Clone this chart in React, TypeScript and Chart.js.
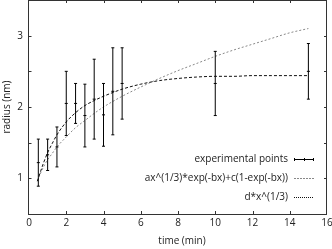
import React, { useEffect, useRef } from 'react';
import { Chart, registerables } from 'chart.js';

Chart.register(...registerables);

// experimental data
const times = [0.5, 1, 1.5, 2, 2.5, 3, 3.5, 4, 4.5, 5, 10, 15];
const radius = [1.22, 1.33, 1.44, 2.05, 2.05, 1.88, 2.11, 1.89, 2.22, 2.33, 2.33, 2.5];
const radiusErr = [0.33, 0.22, 0.28, 0.45, 0.28, 0.44, 0.56, 0.44, 0.61, 0.5, 0.45, 0.39];

// fitted curves
const fitX = [0.45, 0.6, 0.8, 1, 1.25, 1.5, 2, 2.5, 3, 3.5, 4, 5, 6, 7, 8, 9, 10, 11, 12, 13, 14, 15];
const expFit = [0.96, 1.08, 1.23, 1.36, 1.49, 1.61, 1.79, 1.92, 2.02, 2.09, 2.15, 2.25, 2.32, 2.37, 2.4, 2.42, 2.43, 2.43, 2.44, 2.44, 2.44, 2.44];
const powFit = [0.96, 1.06, 1.17, 1.26, 1.35, 1.44, 1.58, 1.71, 1.81, 1.91, 2.0, 2.15, 2.28, 2.4, 2.51, 2.61, 2.71, 2.8, 2.88, 2.96, 3.04, 3.1];

const seriesLabels = ['experimental points', 'ax^(1/3)*exp(-bx)+c(1-exp(-bx))', 'd*x^(1/3)'];
const xTitle = 'time (min)';
const yTitle = 'radius (nm)';

const FONT = '"Open Sans", "DejaVu Sans", sans-serif';

const framePlugin = {
  id: 'gnuFrame',
  afterDatasetsDraw(chart: any) {
    const { ctx, chartArea: a, scales } = chart;
    const x = scales.x;
    const y = scales.y;
    ctx.save();
    // error bars
    ctx.strokeStyle = '#000';
    ctx.lineWidth = 1;
    times.forEach((t, i) => {
      const px = x.getPixelForValue(t);
      const y1 = y.getPixelForValue(radius[i] - radiusErr[i]);
      const y2 = y.getPixelForValue(radius[i] + radiusErr[i]);
      ctx.beginPath();
      ctx.moveTo(px, y1);
      ctx.lineTo(px, y2);
      ctx.moveTo(px - 1.5, y1);
      ctx.lineTo(px + 1.5, y1);
      ctx.moveTo(px - 1.5, y2);
      ctx.lineTo(px + 1.5, y2);
      ctx.stroke();
    });

    // frame
    ctx.strokeStyle = '#333';
    ctx.setLineDash([]);
    const L = Math.floor(a.left) - 0.5;
    ctx.strokeRect(L, a.top + 0.5, Math.round(a.right) - 0.5 - L, a.bottom - a.top);

    // inward ticks (mirrored on all four sides)
    ctx.beginPath();
    x.ticks.forEach((tk: any) => {
      const px = Math.round(x.getPixelForValue(tk.value)) + 0.5;
      if (px <= a.left + 1 || px >= a.right - 1) return;
      ctx.moveTo(px, a.bottom);
      ctx.lineTo(px, a.bottom - 3);
      ctx.moveTo(px, a.top);
      ctx.lineTo(px, a.top + 3);
    });
    y.ticks.forEach((tk: any) => {
      const py = Math.round(y.getPixelForValue(tk.value)) + 0.5;
      if (py <= a.top + 1 || py >= a.bottom - 1) return;
      ctx.moveTo(L, py);
      ctx.lineTo(L + 3, py);
      ctx.moveTo(a.right, py);
      ctx.lineTo(a.right - 3, py);
    });
    ctx.stroke();

    // axis titles
    ctx.font = '10px ' + FONT;
    ctx.fillStyle = '#222';
    ctx.textAlign = 'center';
    ctx.textBaseline = 'middle';
    ctx.fillText(xTitle, 182, a.bottom + 27);
    ctx.save();
    ctx.translate(7.5, (a.top + a.bottom) / 2);
    ctx.rotate(-Math.PI / 2);
    ctx.fillText(yTitle, 0, 0);
    ctx.restore();

    // key
    const rowsY = [159, 178, 197].map((v) => a.top + v);
    const textRight = 288;
    const s0 = 294;
    const s1 = 314;
    ctx.textAlign = 'right';
    seriesLabels.forEach((lab, i) => ctx.fillText(lab, textRight, rowsY[i]));

    const r0 = rowsY[0] + 0.5;
    ctx.strokeStyle = '#000';
    ctx.beginPath();
    ctx.moveTo(s0, r0);
    ctx.lineTo(s1, r0);
    ctx.moveTo(s0 + 0.5, r0 - 1.5);
    ctx.lineTo(s0 + 0.5, r0 + 1.5);
    ctx.moveTo(s1 - 0.5, r0 - 1.5);
    ctx.lineTo(s1 - 0.5, r0 + 1.5);
    ctx.moveTo((s0 + s1) / 2 + 0.5, r0 - 1.5);
    ctx.lineTo((s0 + s1) / 2 + 0.5, r0 + 1.5);
    ctx.stroke();
    ctx.strokeStyle = '#888';
    ctx.setLineDash([2, 1]);
    ctx.beginPath();
    ctx.moveTo(s0, rowsY[1] + 0.5);
    ctx.lineTo(s1, rowsY[1] + 0.5);
    ctx.stroke();
    ctx.strokeStyle = '#111';
    ctx.setLineDash([1, 1]);
    ctx.beginPath();
    ctx.moveTo(s0, rowsY[2] + 0.5);
    ctx.lineTo(s1, rowsY[2] + 0.5);
    ctx.stroke();
    ctx.restore();
  },
};

export default function App() {
  const ref = useRef<HTMLCanvasElement>(null);
  useEffect(() => {
    const canvas = ref.current;
    if (!canvas) return;
    const chart = new Chart(canvas, {
      type: 'scatter',
      data: {
        datasets: [
          {
            label: seriesLabels[0],
            data: times.map((t, i) => ({ x: t, y: radius[i] })),
            pointStyle: 'line',
            pointRadius: 1.5,
            borderColor: '#000',
            borderWidth: 1,
            showLine: false,
          },
          {
            label: seriesLabels[1],
            data: fitX.map((t, i) => ({ x: t, y: expFit[i] })),
            showLine: true,
            borderColor: '#111',
            borderWidth: 1,
            borderDash: [3, 2],
            pointRadius: 0,
            cubicInterpolationMode: 'monotone',
          },
          {
            label: seriesLabels[2],
            data: fitX.map((t, i) => ({ x: t, y: powFit[i] })),
            showLine: true,
            borderColor: '#888',
            borderWidth: 1,
            borderDash: [2, 2],
            pointRadius: 0,
            cubicInterpolationMode: 'monotone',
          },
        ],
      },
      options: {
        animation: false,
        responsive: false,
        devicePixelRatio: 1,
        layout: { padding: { left: 0, right: 5, top: 0, bottom: 0 } },
        plugins: { legend: { display: false }, tooltip: { enabled: false } },
        scales: {
          x: {
            type: 'linear',
            min: 0,
            max: 16,
            grid: { display: false, drawTicks: false },
            border: { display: false },
            ticks: { stepSize: 2, padding: 3, color: '#222', font: { family: FONT, size: 10 } },
            title: { display: false },
            afterFit: (s: any) => {
              s.height = 35;
              s.paddingLeft = 0;
              s.paddingRight = 0;
            },
          },
          y: {
            type: 'linear',
            min: 0.5,
            max: 3.5,
            grid: { display: false, drawTicks: false },
            border: { display: false },
            ticks: {
              stepSize: 0.5,
              padding: 6,
              color: '#222',
              font: { family: FONT, size: 10 },
              callback: (v: any) => (Math.abs(v - Math.round(v)) < 1e-6 ? String(Math.round(v)) : ''),
            },
            title: { display: false },
            afterFit: (s: any) => {
              s.width = 29;
              s.paddingTop = 0;
              s.paddingBottom = 0;
            },
          },
        },
      },
      plugins: [framePlugin],
    });
    // place the plot frame's top edge at the top of the page
    const top = Math.round(chart.chartArea.top);
    if (top !== 5) chart.resize(332, 249 + top);
    canvas.style.top = -top + 'px';
    return () => chart.destroy();
  }, []);
  return (
    <div style={{ position: 'fixed', left: 0, top: 0, width: 332, height: 249, overflow: 'hidden', background: '#fff' }}>
      <canvas ref={ref} width={332} height={254} style={{ position: 'absolute', left: 0, top: -5 }} />
    </div>
  );
}
